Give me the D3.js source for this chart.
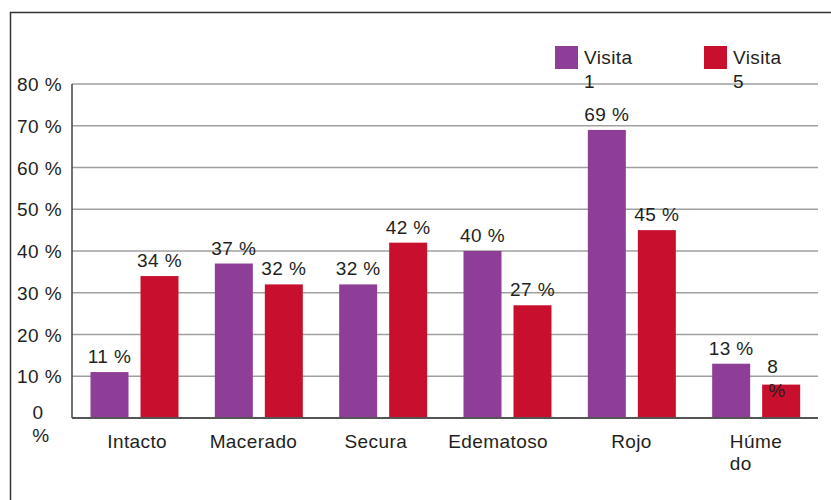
<!DOCTYPE html>
<html>
<head>
<meta charset="utf-8">
<script src="https://cdn.jsdelivr.net/npm/d3@7"></script>
<style>
  body { margin: 0; background: #fff; }
  text { font-family: "Liberation Sans", Arial, sans-serif; fill: #231f20; font-size: 19px; letter-spacing: 0.4px; }
</style>
</head>
<body>
<svg class="chart"></svg>
<script>
// data
var categories = ["Intacto", "Macerado", "Secura", "Edematoso", "Rojo", "Húmedo"];
var visita1 = [11, 37, 32, 40, 69, 13];
var visita5 = [34, 32, 42, 27, 45, 8];
var yTicks = [0, 10, 20, 30, 40, 50, 60, 70, 80];
// labels that wrap in the original
var catLines = { "Húmedo": ["Húme", "do"] };

var W = 831, H = 500;
var margin = {top: 84, right: 13, bottom: 82, left: 72},
  width = W - margin.left - margin.right,
  height = H - margin.top - margin.bottom;

var colors = { v1: "#8e3e97", v5: "#c8102e" };
// small nudges so the category labels sit where the original text boxes put them
var labelShift = { "Intacto": 3, "Macerado": -5, "Secura": -7, "Edematoso": -9, "Rojo": 0, "Húmedo": 0 };

var chart = d3.select(".chart")
  .attr("width", W)
  .attr("height", H);

// outer frame (right side runs past the picture)
chart.append("path")
  .attr("d", "M10.5,505 V12.5 H840")
  .attr("fill", "none")
  .attr("stroke", "#333")
  .attr("stroke-width", 1.5);

var body = chart.append("g")
  .attr("transform", "translate(" + margin.left + "," + margin.top + ")");

var x = d3.scaleBand()
  .domain(categories)
  .range([0, width]);

var y = d3.scaleLinear()
  .domain([0, 80])
  .range([height, 0]);

var barW = 38, barGap = 12, barOff = 18.5;

// gridlines
body.append("g")
  .selectAll("line")
  .data(yTicks.filter(function(d) { return d > 0; }))
  .enter().append("line")
    .attr("x1", 0)
    .attr("x2", width)
    .attr("y1", function(d) { return y(d); })
    .attr("y2", function(d) { return y(d); })
    .attr("stroke", "#a0a0a0")
    .attr("stroke-width", 1.5);

// bars
var groups = body.selectAll("g.cat")
  .data(categories)
  .enter().append("g")
    .attr("class", "cat")
    .attr("transform", function(d) { return "translate(" + x(d) + ",0)"; });

groups.append("rect")
  .attr("x", barOff)
  .attr("y", function(d, i) { return y(visita1[i]); })
  .attr("width", barW)
  .attr("height", function(d, i) { return height - y(visita1[i]); })
  .attr("fill", colors.v1);

groups.append("rect")
  .attr("x", barOff + barW + barGap)
  .attr("y", function(d, i) { return y(visita5[i]); })
  .attr("width", barW)
  .attr("height", function(d, i) { return height - y(visita5[i]); })
  .attr("fill", colors.v5);

// value labels
groups.append("text")
  .attr("x", barOff + barW / 2)
  .attr("y", function(d, i) { return y(visita1[i]) - 9; })
  .attr("text-anchor", "middle")
  .text(function(d, i) { return visita1[i] + " %"; });

groups.each(function(d, i) {
  var g = d3.select(this);
  var cx = barOff + barW + barGap + barW / 2;
  var top = y(visita5[i]);
  if (visita5[i] < 10) {
    // single digit label wraps in the original
    var t = g.append("text")
      .attr("y", top - 12);
    t.append("tspan").attr("x", cx - 14).text(visita5[i]);
    t.append("tspan").attr("x", cx - 13).attr("dy", 24).text("%");
  } else {
    g.append("text")
      .attr("x", cx)
      .attr("y", top - 9)
      .attr("text-anchor", "middle")
      .text(visita5[i] + " %");
  }
});

// axes lines
body.append("line")
  .attr("x1", 0).attr("x2", 0)
  .attr("y1", 0).attr("y2", height)
  .attr("stroke", "#444").attr("stroke-width", 1.5);
body.append("line")
  .attr("x1", 0).attr("x2", width)
  .attr("y1", height).attr("y2", height)
  .attr("stroke", "#555").attr("stroke-width", 2);

// y tick labels
body.append("g")
  .selectAll("text")
  .data(yTicks)
  .enter().append("text")
    .each(function(d) {
      var t = d3.select(this);
      if (d === 0) {
        t.attr("text-anchor", "middle");
        t.append("tspan").attr("x", -34).attr("y", y(d) + 1).text("0");
        t.append("tspan").attr("x", -31).attr("y", y(d) + 24).text("%");
      } else {
        t.attr("text-anchor", "end")
          .attr("x", -10)
          .attr("y", y(d) + 7)
          .text(d + " %");
      }
    });

// category labels
groups.append("text")
  .each(function(d) {
    var t = d3.select(this);
    var lines = catLines[d];
    var cx = x.bandwidth() / 2 + labelShift[d];
    if (lines) {
      lines.forEach(function(l, j) {
        t.append("tspan")
          .attr("x", cx - 26)
          .attr("y", height + 30 + j * 22)
          .text(l);
      });
    } else {
      t.attr("text-anchor", "middle")
        .attr("x", cx)
        .attr("y", height + 30)
        .text(d);
    }
  });

// legend
var legend = [
  {name: ["Visita", "1"], color: colors.v1, x: 555},
  {name: ["Visita", "5"], color: colors.v5, x: 704}
];
var lg = chart.selectAll("g.legend")
  .data(legend)
  .enter().append("g")
    .attr("class", "legend")
    .attr("transform", function(d) { return "translate(" + d.x + ",46)"; });
lg.append("rect")
  .attr("width", 23)
  .attr("height", 23)
  .attr("fill", function(d) { return d.color; });
lg.append("text")
  .each(function(d) {
    var t = d3.select(this);
    t.append("tspan").attr("x", 29).attr("y", 18).text(d.name[0]);
    t.append("tspan").attr("x", 29).attr("y", 42).text(d.name[1]);
  });
</script>
</body>
</html>
